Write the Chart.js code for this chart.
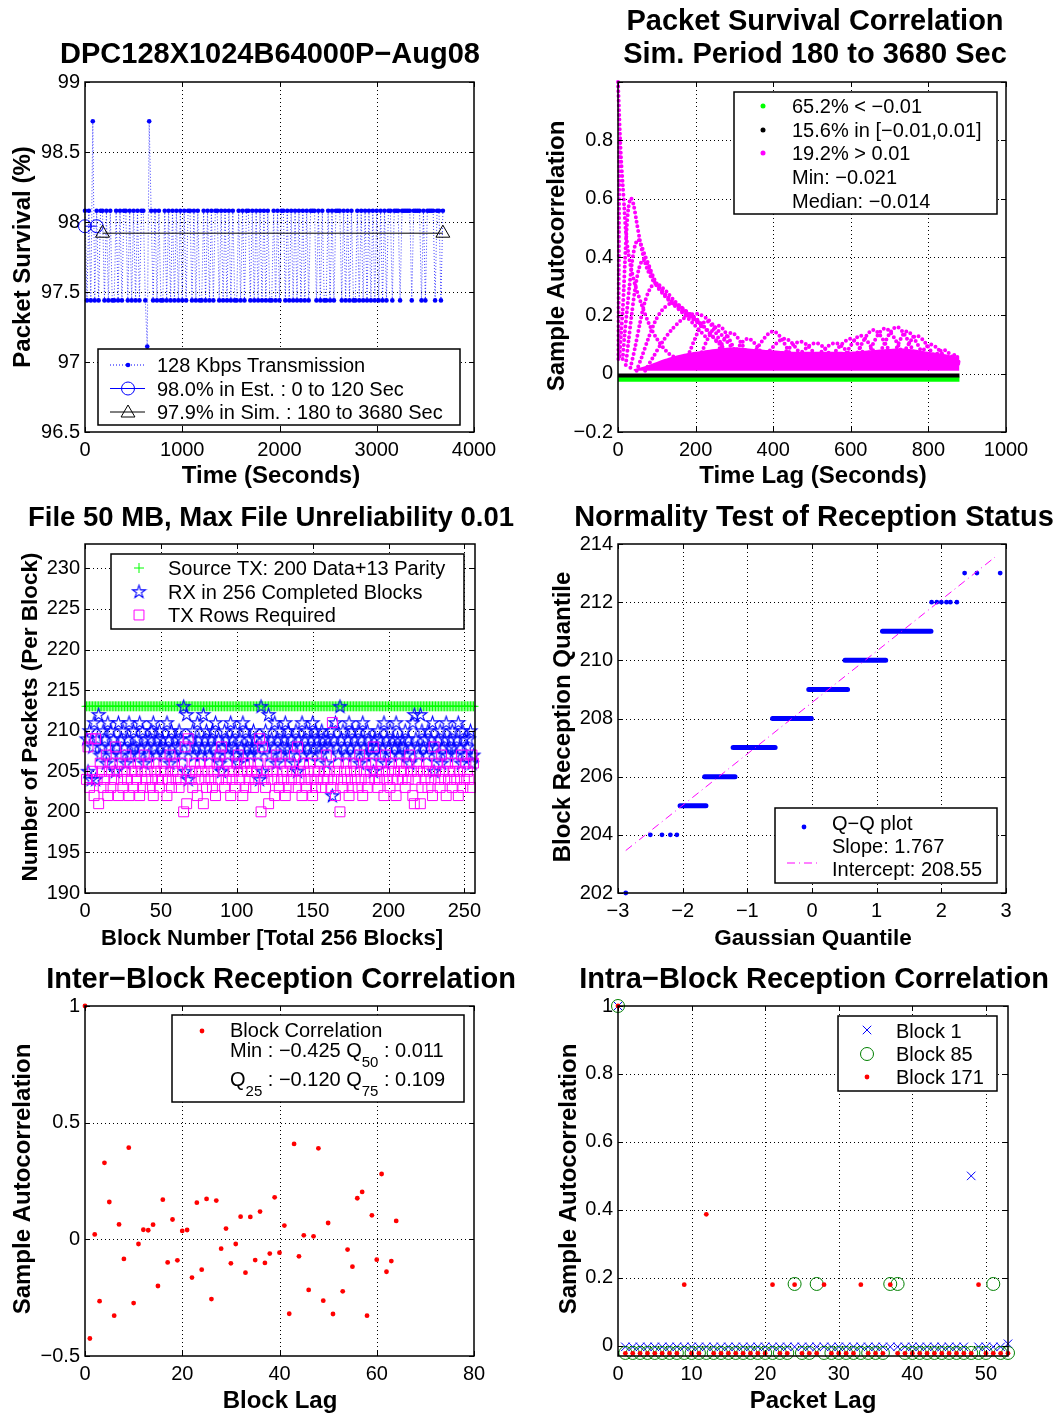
<!DOCTYPE html>
<html>
<head>
<meta charset="utf-8">
<script src="https://cdn.jsdelivr.net/npm/chart.js@4.4.1/dist/chart.umd.min.js"></script>
<style>
  html, body { margin: 0; padding: 0; background: #fff; }
  #page { position: relative; width: 1062px; height: 1416px; }
  #page canvas { position: absolute; left: 0; top: 0; }
</style>
</head>
<body>
<div id="page">
  <canvas id="c1" width="1062" height="1416"></canvas>
  <canvas id="c2" width="1062" height="1416"></canvas>
  <canvas id="c3" width="1062" height="1416"></canvas>
  <canvas id="c4" width="1062" height="1416"></canvas>
  <canvas id="c5" width="1062" height="1416"></canvas>
  <canvas id="c6" width="1062" height="1416"></canvas>
</div>
<script>
// ---------------- data: panel 1 (packet survival over time) ----------------
var survStep = 20   // seconds between samples
var survLevel = { H: 98.08, L: 97.44, U: 98.72, D: 97.11 }
var survCodes =
  'HLHLU' +
  'LHLHHLHLHLLHLHLHHLHLHLHLHHL' +
  'DUH' +
  'LHLHLLHLHLHL' + 'H' +
  'LHLHLHHLHL' + 'HLLHLHLHLH' + 'HLHLHLHLHL' + 'LHLHLHHLHL' + 'HLHLHLHLLH' + 'LHLHHLHLHL' + 'HLHLHLHLH' +
  'HH' + 'LHLHLLHLHLH' + 'HH' + 'LHLHLHLLHLHL' + 'H' +
  'LHLHLH' + 'LH' + 'LHLHHLHH' + 'HL' + 'HHHHH' + 'L' + 'HHHH' + 'LHL' + 'HHHH' + 'L' + 'HH' + 'LH'
var estSpan = [0, 120], estLevel = 97.97
var simSpan = [180, 3680], simLevel = 97.92

// ---------------- data: panel 2 (survival autocorrelation) ----------------
var greenLags = [0, 880], greenVals = [-0.019, -0.019]
var blackLags = [0, 880], blackVals = [-0.006, -0.006]
var bandFloor = 0.01
var bandLags = [40, 80, 120, 160, 200, 250, 300, 350, 400, 450, 500, 550, 600, 650, 700, 750, 800, 850, 880]
var bandTop = [0.015, 0.03, 0.05, 0.065, 0.075, 0.085, 0.09, 0.085, 0.08, 0.075, 0.075, 0.075, 0.075, 0.08, 0.085, 0.085, 0.075, 0.065, 0.055]
var magentaArcs = [
  [[1, 0.05], [1.5, 0.2], [2, 0.35], [2.5, 0.5], [3, 0.65], [3.5, 0.8]],
  [[0, 1.0], [5, 0.82], [8, 0.735], [12, 0.652], [16, 0.572], [20, 0.49], [26, 0.42], [34, 0.36], [45, 0.3], [60, 0.24], [80, 0.17], [100, 0.12], [130, 0.07], [170, 0.04]],
  [[4, 0.06], [8, 0.14], [12, 0.214], [15, 0.294], [18, 0.386], [22, 0.49], [27, 0.57], [33, 0.602], [40, 0.58], [48, 0.52], [56, 0.46], [64, 0.41], [75, 0.36], [90, 0.32], [110, 0.29], [130, 0.26], [155, 0.23], [185, 0.2], [215, 0.17]],
  [[12, 0.05], [17, 0.133], [23, 0.214], [29, 0.294], [36, 0.38], [44, 0.44], [52, 0.46], [60, 0.44], [68, 0.41], [80, 0.37], [95, 0.32], [115, 0.28], [135, 0.25], [160, 0.22], [190, 0.19], [220, 0.16]],
  [[20, 0.03], [27, 0.11], [35, 0.2], [44, 0.29], [54, 0.36], [64, 0.39], [74, 0.38], [86, 0.34], [100, 0.3], [118, 0.27], [140, 0.24], [165, 0.21], [195, 0.17], [230, 0.12]],
  [[32, 0.02], [44, 0.09], [56, 0.17], [68, 0.24], [82, 0.29], [96, 0.31], [110, 0.3], [126, 0.28], [145, 0.25], [170, 0.22], [200, 0.19], [230, 0.15], [260, 0.1]],
  [[48, 0.01], [62, 0.06], [78, 0.12], [96, 0.18], [115, 0.22], [135, 0.24], [155, 0.235], [178, 0.21], [205, 0.18], [235, 0.14], [270, 0.09]],
  [[70, 0.01], [92, 0.06], [115, 0.11], [138, 0.15], [160, 0.18], [182, 0.2], [205, 0.205], [228, 0.19], [250, 0.16], [275, 0.12], [305, 0.07]]
]
var humpBase = 0.03
// [start lag, peak lag, end lag, peak value]
var humps = [
  [170, 228, 290, 0.18], [200, 258, 320, 0.165], [240, 292, 350, 0.14], [280, 335, 390, 0.12],
  [330, 400, 460, 0.145], [360, 430, 490, 0.12], [400, 470, 530, 0.11], [440, 510, 570, 0.105],
  [490, 560, 620, 0.105], [530, 600, 650, 0.12], [570, 625, 680, 0.13], [600, 658, 720, 0.15],
  [630, 688, 750, 0.155], [660, 718, 780, 0.16], [700, 745, 800, 0.145], [720, 770, 830, 0.13],
  [760, 806, 860, 0.1], [800, 838, 880, 0.082], [840, 870, 880, 0.065]
]

// ---------------- data: panel 3 (packets per block) ----------------
var srcTx = 213
var pktBase = 200   // codes below are hex offsets from this
var rxCodes =
  '95a48b49c78a96b8' + 'a7958b79a869b78a' + '897b8a69879ab879' + 'a8978b96a8798a97' +
  'd5c489a78b978c9a' + '879a8b79658a978b' + '98a7698b7a8978a9' + '874d59a8c798b69a' +
  '789b8a7986a598b7' + '9a879b8a987a9869' + '8a29b87d9a879b8a' + '798a69b87a987598' +
  'a978b698a798b978' + '98a7968bc987ca89' + '7a89b5879a689b78' + '9a879b86a9789a67'
var txCodes =
  '4839529416534725' + '3648526435742653' + '5462537456342564' + '3546524735645346' +
  '0819543652465143' + '5643526478534652' + '4536745263546534' + '5690843516452743' +
  '6542536457384526' + '4356425345634574' + '53b4256043564253' + '6453742563456845' +
  '3465274536452465' + '4536475214561354' + '6354285643754265' + '4356425734654376'

// ---------------- data: panel 4 (Q-Q plot) ----------------
var qqLevel = [205, 206, 207, 208, 209, 210, 211]
var qqFrom = [-2.04, -1.66, -1.22, -0.61, -0.05, 0.51, 1.09]
var qqTo = [-1.64, -1.19, -0.57, -0.01, 0.55, 1.14, 1.84]
var qqDotQ = [-2.88, -2.50, -2.32, -2.19, -2.09, 1.85, 1.93, 2.0, 2.08, 2.14, 2.24, 2.36, 2.55, 2.91]
var qqDotY = [202, 204, 204, 204, 204, 212, 212, 212, 212, 212, 212, 213, 213, 213]
var fitQ = [-2.88, 2.83], fitY = [203.46, 213.55]

// ---------------- data: panel 5 (inter-block correlation) ----------------
var blockLags = [0, 1, 2, 3, 4, 5, 6, 7, 8, 9, 10, 11, 12, 13, 14, 15, 16, 17, 18, 19, 20,
  21, 22, 23, 24, 25, 26, 27, 28, 29, 30, 31, 32, 33, 34, 35, 36, 37, 38, 39, 40,
  41, 42, 43, 44, 45, 46, 47, 48, 49, 50, 51, 53, 54, 55, 56, 57, 58, 59, 60, 61, 62, 63, 64]
var blockCorr = [1.0, -0.425, 0.021, -0.265, 0.328, 0.16, -0.327, 0.064, -0.084, 0.393, -0.273,
  -0.02, 0.041, 0.039, 0.063, -0.2, 0.17, -0.099, 0.085, -0.09, 0.036,
  0.04, -0.164, 0.157, -0.13, 0.173, -0.256, 0.166, -0.04, 0.046, -0.103,
  -0.02, 0.097, -0.143, 0.096, -0.089, 0.119, -0.101, -0.061, 0.18, -0.057,
  0.059, -0.319, 0.409, -0.073, 0.017, -0.217, 0.013, 0.39, -0.263, 0.07,
  -0.32, -0.223, -0.044, -0.117, 0.176, 0.203, -0.327, 0.103, -0.087, 0.28, -0.139, -0.093, 0.079]

// ---------------- data: panel 6 (intra-block correlation, index = packet lag) ----------------
var intraB1 = [1,
  -.003, -.003, -.003, -.003, -.003, -.003, -.003, -.003, -.003, -.003,
  -.003, -.003, -.003, -.003, -.003, -.003, -.003, -.003, -.003, -.003,
  -.003, -.003, -.003, -.003, -.003, -.003, -.003, -.003, -.003, -.003,
  -.003, -.003, -.003, -.003, -.003, -.003, -.003, -.003, -.003, -.003,
  -.003, -.003, -.003, -.003, -.003, -.003, -.003, .5, -.003, -.003,
  -.003, -.003, .006]
var intraB85 = [1,
  -.021, -.021, -.021, -.021, -.021, -.021, -.021, -.021, -.021, -.021,
  -.021, -.021, -.021, -.021, -.021, -.021, -.021, -.021, -.021, -.021,
  -.021, -.021, -.021, .182, -.021, -.021, .182, -.021, -.021, -.021,
  -.021, -.021, -.021, -.021, -.021, -.021, .182, .182, -.021, -.021,
  -.021, -.021, -.021, -.021, -.021, -.021, -.021, -.021, -.021, -.021,
  .182, -.021, -.021]
var intraB171 = [1,
  -.022, -.022, -.022, -.022, -.022, -.022, -.022, -.022, .18, -.022,
  -.022, .387, -.022, -.022, -.022, -.022, -.022, -.022, -.022, -.022,
  .18, -.022, -.022, .18, -.022, -.022, -.022, .18, -.022, -.022,
  -.022, -.022, .18, -.022, -.022, -.022, .18, -.022, -.022, -.022,
  -.022, -.022, -.022, -.022, -.022, -.022, -.022, -.022, .18, -.022,
  -.022, -.022, -.022]

// ---------------- drawing ----------------
var FONT = '"Liberation Sans", Arial, Helvetica, sans-serif'
Chart.defaults.font.family = FONT
Chart.defaults.font.size = 20
Chart.defaults.color = '#000'

var W = 1062, H = 1416, YAX_W = 80, XAX_H = 40
var BLUE = '#0000ff', MAG = '#ff00ff', GRN = '#00ff00', DKGRN = '#008000', RED = '#ff0000'

function fmt(v) {
  return String(Math.round(v * 1000) / 1000).replace('-', '\u2212')
}

function axis(min, max, step, isX, hide) {
  return {
    type: 'linear', min: min, max: max,
    position: isX ? 'bottom' : 'left',
    grid: { display: false, drawTicks: false, tickLength: 0 }, border: { display: false },
    ticks: {
      stepSize: step, includeBounds: false, autoSkip: false, maxRotation: 0, minRotation: 0,
      padding: isX ? 6 : 5,
      callback: function (v) { return (hide && hide(v)) ? '' : fmt(v) }
    },
    afterFit: isX ? function (s) { s.height = XAX_H } : function (s) { s.width = YAX_W }
  }
}

function pts(xs, ys) {
  return xs.map(function (x, i) { return { x: x, y: ys[i] } })
}

// star (pentagram) marker image for the RX series
var starImg = document.createElement('canvas')
starImg.width = 17; starImg.height = 17
;(function () {
  var sc = starImg.getContext('2d')
  sc.strokeStyle = BLUE; sc.lineWidth = 1.1
  sc.beginPath()
  for (var k = 0; k < 10; k++) {
    var ang = -Math.PI / 2 + k * Math.PI / 5
    var rr = k % 2 ? 2.6 : 6.8
    var px = 8.5 + rr * Math.cos(ang), py = 9 + rr * Math.sin(ang)
    if (k) sc.lineTo(px, py); else sc.moveTo(px, py)
  }
  sc.closePath(); sc.stroke()
})()

function marker(ctx, style, x, y, r, color) {
  ctx.save()
  ctx.strokeStyle = color; ctx.fillStyle = color; ctx.lineWidth = 1; ctx.setLineDash([])
  ctx.beginPath()
  if (style === 'dot') { ctx.arc(x, y, r, 0, 2 * Math.PI); ctx.fill() }
  else if (style === 'circle') { ctx.arc(x, y, r, 0, 2 * Math.PI); ctx.stroke() }
  else if (style === 'triangle') {
    ctx.moveTo(x, y - r); ctx.lineTo(x + 0.866 * r, y + 0.5 * r); ctx.lineTo(x - 0.866 * r, y + 0.5 * r)
    ctx.closePath(); ctx.stroke()
  }
  else if (style === 'cross') { ctx.moveTo(x - r, y); ctx.lineTo(x + r, y); ctx.moveTo(x, y - r); ctx.lineTo(x, y + r); ctx.stroke() }
  else if (style === 'crossRot') {
    var d = r * 0.707
    ctx.moveTo(x - d, y - d); ctx.lineTo(x + d, y + d); ctx.moveTo(x + d, y - d); ctx.lineTo(x - d, y + d); ctx.stroke()
  }
  else if (style === 'rect') { var s = r * 0.707; ctx.rect(x - s, y - s, 2 * s, 2 * s); ctx.stroke() }
  else if (style === 'star') { ctx.drawImage(starImg, x - 8.5, y - 9) }
  ctx.restore()
}

function seg(ctx, x0, x1, y, color, dash) {
  ctx.save(); ctx.strokeStyle = color; ctx.lineWidth = 1; ctx.setLineDash(dash || [])
  ctx.beginPath(); ctx.moveTo(x0, y); ctx.lineTo(x1, y); ctx.stroke(); ctx.restore()
}

function text(ctx, s, x, y, font, align) {
  ctx.save(); ctx.font = font; ctx.fillStyle = '#000'; ctx.textAlign = align || 'left'
  ctx.textBaseline = 'alphabetic'; ctx.fillText(s, x, y); ctx.restore()
}
function title(ctx, s, cx, base, size) { text(ctx, s, cx, base, 'bold ' + (size || 29) + 'px ' + FONT, 'center') }
function xlabel(ctx, s, cx, base, size) { text(ctx, s, cx, base, 'bold ' + (size || 24) + 'px ' + FONT, 'center') }
function ylabel(ctx, s, cx, cy, size) {
  ctx.save(); ctx.translate(cx + 8.5, cy); ctx.rotate(-Math.PI / 2)
  ctx.font = 'bold ' + (size || 24) + 'px ' + FONT; ctx.fillStyle = '#000'; ctx.textAlign = 'center'
  ctx.fillText(s, 0, 0); ctx.restore()
}
function legText(ctx, s, x, base) { text(ctx, s, x, base, '20px ' + FONT) }
function legBox(ctx, x0, y0, x1, y1) {
  ctx.save(); ctx.fillStyle = '#fff'; ctx.fillRect(x0, y0, x1 - x0, y1 - y0)
  ctx.strokeStyle = '#000'; ctx.lineWidth = 1.5; ctx.strokeRect(x0, y0, x1 - x0, y1 - y0); ctx.restore()
}
function richLine(ctx, parts, x, base) {
  var cx = x
  ctx.save(); ctx.fillStyle = '#000'; ctx.textBaseline = 'alphabetic'; ctx.textAlign = 'left'
  parts.forEach(function (p) {
    ctx.font = (p[1] ? '15px ' : '20px ') + FONT
    ctx.fillText(p[0], cx, p[1] ? base + 10 : base)
    cx += ctx.measureText(p[0]).width
  })
  ctx.restore()
}

function drawGrid(c) {
  var ctx = c.ctx, a = c.chartArea, x = c.scales.x, y = c.scales.y
  ctx.save(); ctx.strokeStyle = '#000'; ctx.lineWidth = 1; ctx.setLineDash([1, 3]); ctx.beginPath()
  x.ticks.forEach(function (t) {
    var p = Math.round(x.getPixelForValue(t.value)) + 0.5
    if (p > a.left + 2 && p < a.right - 2) { ctx.moveTo(p, a.top); ctx.lineTo(p, a.bottom) }
  })
  y.ticks.forEach(function (t) {
    var p = Math.round(y.getPixelForValue(t.value)) + 0.5
    if (p > a.top + 2 && p < a.bottom - 2) { ctx.moveTo(a.left, p); ctx.lineTo(a.right, p) }
  })
  ctx.stroke(); ctx.restore()
}

function drawFrame(c) {
  var ctx = c.ctx, a = c.chartArea, x = c.scales.x, y = c.scales.y
  var L = Math.round(a.left), R = Math.round(a.right), T = Math.round(a.top), B = Math.round(a.bottom)
  ctx.save(); ctx.strokeStyle = '#000'; ctx.lineWidth = 1.5; ctx.setLineDash([])
  ctx.strokeRect(L, T, R - L, B - T)
  ctx.lineWidth = 1; ctx.beginPath()
  x.ticks.forEach(function (t) {
    var p = Math.round(x.getPixelForValue(t.value)) + 0.5
    ctx.moveTo(p, B); ctx.lineTo(p, B - 5); ctx.moveTo(p, T); ctx.lineTo(p, T + 5)
  })
  y.ticks.forEach(function (t) {
    var p = Math.round(y.getPixelForValue(t.value)) + 0.5
    ctx.moveTo(L, p); ctx.lineTo(L + 5, p); ctx.moveTo(R, p); ctx.lineTo(R - 5, p)
  })
  ctx.stroke(); ctx.restore()
}

// datasets are listed bottom-first; Chart.js paints index 0 on top, so reverse
function makeChart(id, box, xAx, yAx, sets, deco) {
  return new Chart(document.getElementById(id), {
    type: 'scatter',
    data: { datasets: sets.slice().reverse() },
    options: {
      responsive: false, animation: false, events: [],
      layout: {
        autoPadding: false,
        padding: { left: box.l - YAX_W, right: W - box.r, top: box.t, bottom: H - box.b - XAX_H }
      },
      plugins: { legend: { display: false }, tooltip: { enabled: false } },
      scales: { x: xAx, y: yAx }
    },
    plugins: [{
      id: 'frame',
      beforeDatasetsDraw: function (c) { drawGrid(c) },
      afterDatasetsDraw: function (c) { drawFrame(c); deco(c.ctx) }
    }]
  })
}

function dots(data, color, r) {
  return { data: data, showLine: false, pointRadius: r, pointBackgroundColor: color, pointBorderWidth: 0, clip: false }
}
function hollow(data, style, color, r) {
  return { data: data, showLine: false, pointStyle: style, pointRadius: r, pointBorderColor: color,
    pointBackgroundColor: 'rgba(0,0,0,0)', pointBorderWidth: 1, clip: false }
}
function dotTrail(data, color, w) {
  return { data: data, showLine: true, pointRadius: 0, borderColor: color, borderWidth: w,
    borderDash: [0, w + 0.7], borderCapStyle: 'round', tension: 0.3, clip: false }
}

// ---- panel 1 ----
var survData = survCodes.split('').map(function (ch, i) { return { x: i * survStep, y: survLevel[ch] } })
makeChart('c1', { l: 85, r: 474, t: 82, b: 432 },
  axis(0, 4000, 1000, true), axis(96.5, 99, 0.5, false),
  [
    { data: survData, showLine: true, borderColor: 'rgba(0,0,255,0.75)', borderWidth: 1, borderDash: [1, 2],
      pointRadius: 2.3, pointBackgroundColor: BLUE, pointBorderWidth: 0, clip: false },
    Object.assign(hollow(pts(estSpan, [estLevel, estLevel]), 'circle', BLUE, 6.5), { showLine: true, borderColor: BLUE, borderWidth: 1 }),
    Object.assign(hollow(pts(simSpan, [simLevel, simLevel]), 'triangle', '#000', 8), { showLine: true, borderColor: '#000', borderWidth: 1 })
  ],
  function (ctx) {
    title(ctx, 'DPC128X1024B64000P\u2212Aug08', 270, 63)
    xlabel(ctx, 'Time (Seconds)', 271, 483)
    ylabel(ctx, 'Packet Survival (%)', 21, 257)
    legBox(ctx, 98, 349, 460, 425)
    seg(ctx, 110, 145, 365, BLUE, [1, 2]); marker(ctx, 'dot', 128, 365, 2.3, BLUE)
    seg(ctx, 110, 145, 388.5, BLUE); marker(ctx, 'circle', 128, 388.5, 6.5, BLUE)
    seg(ctx, 110, 145, 412, '#000'); marker(ctx, 'triangle', 128, 413, 8, '#000')
    legText(ctx, '128 Kbps Transmission', 157, 372)
    legText(ctx, '98.0% in Est. : 0 to 120 Sec', 157, 395.5)
    legText(ctx, '97.9% in Sim. : 180 to 3680 Sec', 157, 419)
  })

// ---- panel 2 ----
var p2 = [
  { data: pts(greenLags, greenVals), showLine: true, pointRadius: 0, borderColor: GRN, borderWidth: 5, clip: false },
  { data: pts(blackLags, blackVals), showLine: true, pointRadius: 0, borderColor: '#000', borderWidth: 4, clip: false },
  { data: pts(bandLags, bandTop), showLine: true, pointRadius: 0, borderWidth: 0, borderColor: MAG,
    backgroundColor: MAG, fill: { value: bandFloor }, tension: 0.4, clip: false }
]
magentaArcs.forEach(function (arc) {
  p2.push(dotTrail(arc.map(function (p) { return { x: p[0], y: p[1] } }), MAG, 4))
})
humps.forEach(function (h) {
  p2.push(dotTrail(pts([h[0], h[1], h[2]], [humpBase, h[3], humpBase]), MAG, 4))
})
makeChart('c2', { l: 618, r: 1006, t: 82, b: 432 },
  axis(0, 1000, 200, true), axis(-0.2, 1.0, 0.2, false, function (v) { return v > 0.9 }),
  p2,
  function (ctx) {
    title(ctx, 'Packet Survival Correlation', 815, 30)
    title(ctx, 'Sim. Period 180 to 3680 Sec', 815, 63)
    xlabel(ctx, 'Time Lag (Seconds)', 813, 483)
    ylabel(ctx, 'Sample Autocorrelation', 555, 256)
    legBox(ctx, 734, 92, 997, 214)
    marker(ctx, 'dot', 763, 106, 2.5, GRN)
    marker(ctx, 'dot', 763, 130, 2.5, '#000')
    marker(ctx, 'dot', 763, 153, 2.5, MAG)
    legText(ctx, '65.2% < \u22120.01', 792, 113)
    legText(ctx, '15.6% in [\u22120.01,0.01]', 792, 137)
    legText(ctx, '19.2% > 0.01', 792, 160)
    legText(ctx, 'Min: \u22120.021', 792, 183.5)
    legText(ctx, 'Median: \u22120.014', 792, 207.5)
  })

// ---- panel 3 ----
var srcData = [], rxData = [], txData = []
for (var b = 0; b < rxCodes.length; b++) {
  srcData.push({ x: b + 1, y: srcTx })
  rxData.push({ x: b + 1, y: pktBase + parseInt(rxCodes[b], 16) })
  txData.push({ x: b + 1, y: pktBase + parseInt(txCodes[b], 16) })
}
makeChart('c3', { l: 85, r: 475, t: 544, b: 893 },
  axis(0, 257, 50, true), axis(190, 233, 5, false),
  [
    hollow(srcData, 'cross', GRN, 5),
    { data: rxData, showLine: false, pointStyle: starImg, pointRadius: 6, clip: false },
    hollow(txData, 'rect', MAG, 7)
  ],
  function (ctx) {
    title(ctx, 'File 50 MB, Max File Unreliability 0.01', 271, 526, 27.5)
    xlabel(ctx, 'Block Number [Total 256 Blocks]', 272, 945, 22)
    ylabel(ctx, 'Number of Packets (Per Block)', 28, 717, 22.5)
    legBox(ctx, 111, 554, 464, 629)
    marker(ctx, 'cross', 139, 568, 5, GRN)
    marker(ctx, 'star', 139, 592, 6, BLUE)
    marker(ctx, 'rect', 139, 615, 7, MAG)
    legText(ctx, 'Source TX: 200 Data+13 Parity', 168, 575)
    legText(ctx, 'RX in 256 Completed Blocks', 168, 599)
    legText(ctx, 'TX Rows Required', 168, 622)
  })

// ---- panel 4 ----
var qqSteps = []
qqLevel.forEach(function (lv, i) {
  qqSteps.push({ x: qqFrom[i], y: lv }, { x: qqTo[i], y: lv }, { x: qqTo[i], y: null })
})
makeChart('c4', { l: 618, r: 1006, t: 544, b: 893 },
  axis(-3, 3, 1, true), axis(202, 214, 2, false),
  [
    { data: qqSteps, showLine: true, spanGaps: false, pointRadius: 0, borderColor: BLUE, borderWidth: 5,
      borderCapStyle: 'round', clip: false },
    dots(pts(qqDotQ, qqDotY), BLUE, 2.4),
    { data: pts(fitQ, fitY), showLine: true, pointRadius: 0, borderColor: MAG, borderWidth: 1,
      borderDash: [8, 4, 1, 4], clip: false }
  ],
  function (ctx) {
    title(ctx, 'Normality Test of Reception Status', 814, 526)
    xlabel(ctx, 'Gaussian Quantile', 813, 945, 22.5)
    ylabel(ctx, 'Block Reception Quantile', 561, 717)
    legBox(ctx, 775, 808, 997, 883)
    marker(ctx, 'dot', 804, 827, 2.4, BLUE)
    seg(ctx, 787, 818, 863, MAG, [8, 4, 1, 4])
    legText(ctx, 'Q\u2212Q plot', 832, 829.5)
    legText(ctx, 'Slope: 1.767', 832, 853)
    legText(ctx, 'Intercept: 208.55', 832, 876)
  })

// ---- panel 5 ----
makeChart('c5', { l: 85, r: 474, t: 1006, b: 1356 },
  axis(0, 80, 20, true), axis(-0.5, 1, 0.5, false),
  [dots(pts(blockLags, blockCorr), RED, 2.4)],
  function (ctx) {
    title(ctx, 'Inter\u2212Block Reception Correlation', 281, 988)
    xlabel(ctx, 'Block Lag', 280, 1408)
    ylabel(ctx, 'Sample Autocorrelation', 21, 1179)
    legBox(ctx, 172, 1015, 464, 1102)
    marker(ctx, 'dot', 202, 1031, 2.4, RED)
    legText(ctx, 'Block Correlation', 230, 1037)
    richLine(ctx, [['Min : \u22120.425 Q'], ['50', true], [' : 0.011']], 230, 1057)
    richLine(ctx, [['Q'], ['25', true], [' : \u22120.120 Q'], ['75', true], [' : 0.109']], 230, 1086)
  })

// ---- panel 6 ----
function byLag(vals) { return vals.map(function (v, i) { return { x: i, y: v } }) }
makeChart('c6', { l: 618, r: 1008, t: 1006, b: 1356 },
  axis(0, 53, 10, true), axis(-0.03, 1, 0.2, false),
  [
    hollow(byLag(intraB1), 'crossRot', BLUE, 6),
    hollow(byLag(intraB85), 'circle', DKGRN, 6.5),
    dots(byLag(intraB171), RED, 2.4)
  ],
  function (ctx) {
    title(ctx, 'Intra\u2212Block Reception Correlation', 814, 988)
    xlabel(ctx, 'Packet Lag', 813, 1408)
    ylabel(ctx, 'Sample Autocorrelation', 567, 1179)
    legBox(ctx, 838, 1016, 997, 1091)
    marker(ctx, 'crossRot', 867, 1030, 6, BLUE)
    marker(ctx, 'circle', 867, 1054, 6.5, DKGRN)
    marker(ctx, 'dot', 867, 1077, 2.4, RED)
    legText(ctx, 'Block 1', 896, 1037.5)
    legText(ctx, 'Block 85', 896, 1061)
    legText(ctx, 'Block 171', 896, 1084)
  })
</script>
</body>
</html>
